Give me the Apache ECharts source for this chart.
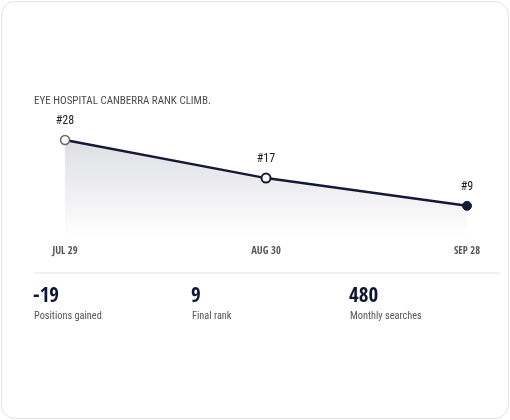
<!DOCTYPE html>
<html><head><meta charset="utf-8">
<script src="https://cdn.jsdelivr.net/npm/echarts@6/dist/echarts.min.js"></script>
<style>
html,body{margin:0;padding:0;background:#fff;}
#card{position:absolute;left:1px;top:1px;width:506px;height:416px;border:1px solid #e3e3e3;border-radius:14px;background:#fff;}
#chart{position:absolute;left:0;top:0;width:510px;height:420px;}
</style></head>
<body><div id="card"></div><div id="chart"></div>
<script>
const title = 'EYE HOSPITAL CANBERRA RANK CLIMB.';
const categories = ['JUL 29', 'AUG 30', 'SEP 28'];
const ranks = [28, 17, 9];
const statValues = ['-19', '9', '480'];
const statLabels = ['Positions gained', 'Final rank', 'Monthly searches'];

const FONT = '"Roboto Condensed", "Noto Sans Display", sans-serif';
const BOLDFONT = '"Open Sans Condensed", "Roboto Condensed", sans-serif';
const DARK = '#141a36';
const chart = echarts.init(document.getElementById('chart'), null, {renderer: 'canvas'});

const statX = [34, 192, 350];
const graphics = [
  {type: 'text', left: 34, top: 96, style: {text: title, font: '11px ' + FONT, fill: '#4a4a4a'}},
  {type: 'rect', shape: {x: 34, y: 272, width: 466, height: 2}, style: {fill: '#f0f0f0'}}
];
statValues.forEach((v, i) => {
  graphics.push({type: 'text', left: statX[i] - 1, top: 286, style: {text: v, font: 'bold 21px ' + BOLDFONT, fill: '#0f1631'}});
  graphics.push({type: 'text', left: statX[i], top: 311, style: {text: statLabels[i], font: '10.3px ' + FONT, fill: '#555'}});
});

const symbolStyles = [
  {color: '#fff', borderColor: '#666', borderWidth: 1.5},
  {color: '#fff', borderColor: DARK, borderWidth: 2},
  {color: DARK, borderColor: DARK, borderWidth: 1}
];

chart.setOption({
  animation: false,
  grid: {left: 65, right: 43, top: 140, bottom: 183},
  xAxis: {
    type: 'category', data: categories, boundaryGap: false,
    axisLine: {show: false}, axisTick: {show: false}, splitLine: {show: false},
    axisLabel: {color: '#555', fontFamily: BOLDFONT, fontSize: 10.5, fontWeight: 'bold', margin: 9}
  },
  yAxis: {type: 'value', min: 0, max: 28, show: false},
  series: [{
    type: 'line', data: ranks.map((r, i) => ({value: r, itemStyle: symbolStyles[i]})),
    symbol: 'circle', symbolSize: 9,
    lineStyle: {color: DARK, width: 2.5},
    label: {show: true, position: 'top', distance: 8, formatter: p => '#' + p.value,
      color: '#222', fontFamily: FONT, fontSize: 12},
    areaStyle: {color: new echarts.graphic.LinearGradient(0, 0, 0, 1, [
      {offset: 0, color: 'rgba(200,201,208,0.85)'},
      {offset: 1, color: 'rgba(255,255,255,0.9)'}
    ])}
  }],
  graphic: graphics
});
</script></body></html>
